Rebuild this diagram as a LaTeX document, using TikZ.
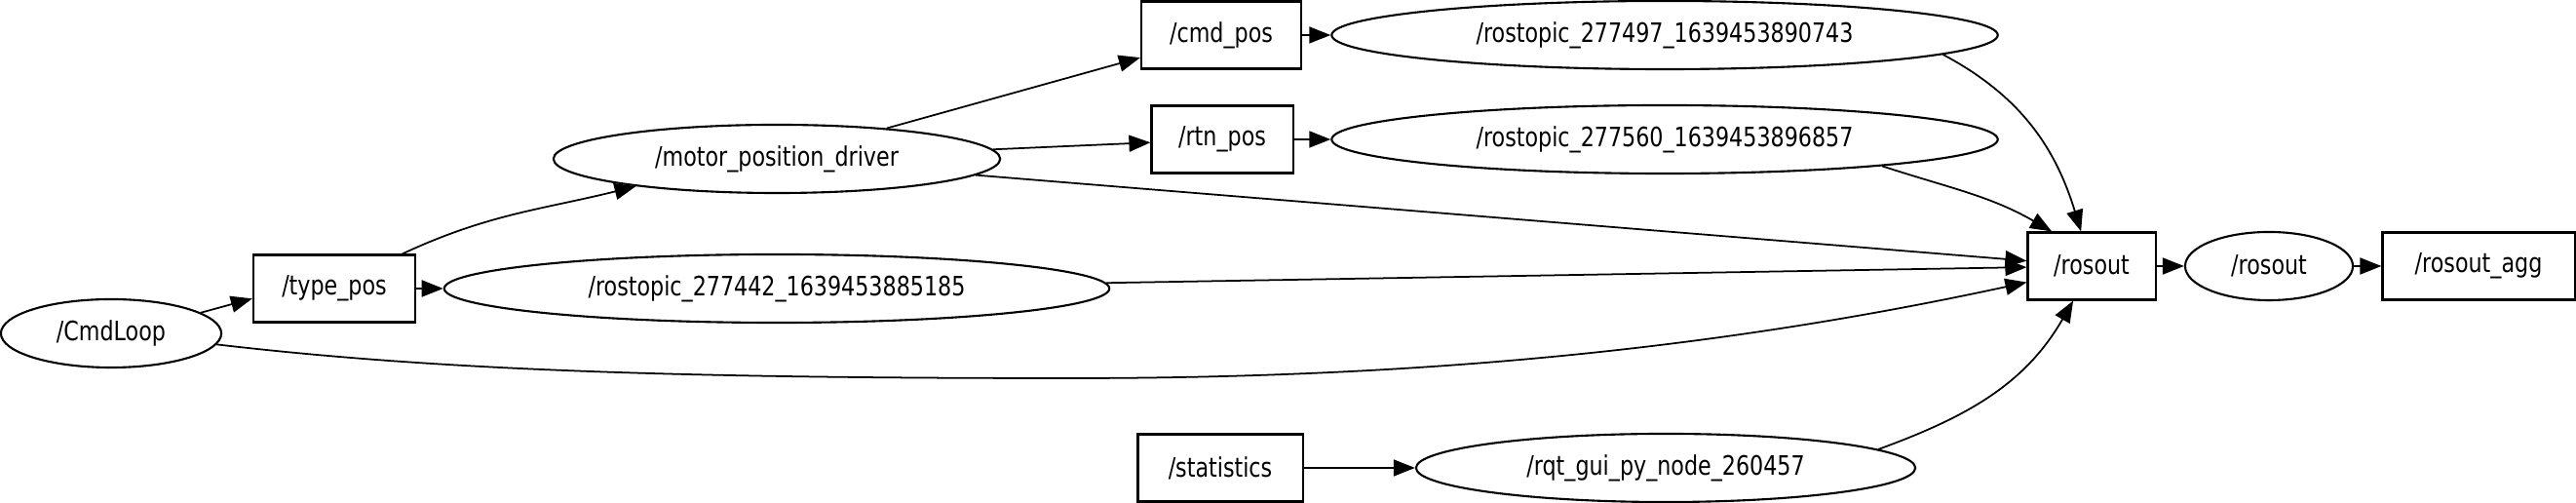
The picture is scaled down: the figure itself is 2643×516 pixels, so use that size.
\documentclass[tikz,border=0pt]{standalone}
\usepackage{fontspec}
\setmainfont{DejaVu Sans}[FakeStretch=0.81]
\usetikzlibrary{shapes.geometric,arrows.meta}

\begin{document}
\begin{tikzpicture}[x=0.01cm, y=0.01cm, >={Triangle[length=2.2mm,width=1.7mm]}]
        \tikzstyle{every node}=[inner sep=1pt, font=\fontsize{7.8}{9}\selectfont]
        \tikzstyle{topic}=[draw, line width=0.6pt, rectangle, minimum height=6.9mm]
        \tikzstyle{rosnode}=[draw, line width=0.6pt, ellipse, minimum height=7mm]
        \tikzstyle{link}=[->, line width=0.5pt]
        \useasboundingbox (0,0) rectangle (2643,516);
        \node [rosnode, minimum width=22.6mm] (CmdLoop) at (114,174) {/CmdLoop};
        \node [topic, minimum width=16.6mm] (type_pos) at (343,220) {/type\_pos};
        \node [rosnode, minimum width=68.2mm] (rt442) at (797,220) {/rostopic\_277442\_1639453885185};
        \node [rosnode, minimum width=45.8mm] (motor) at (797,353) {/motor\_position\_driver};
        \node [topic, minimum width=16.4mm] (cmd_pos) at (1253,480) {/cmd\_pos};
        \node [topic, minimum width=14.5mm] (rtn_pos) at (1254,373) {/rtn\_pos};
        \node [rosnode, minimum width=68.3mm] (rt497) at (1708,480) {/rostopic\_277497\_1639453890743};
        \node [rosnode, minimum width=68.3mm] (rt560) at (1708,373) {/rostopic\_277560\_1639453896857};
        \node [topic, minimum width=13.1mm] (rosout) at (2146,243) {/rosout};
        \node [rosnode, minimum width=17.2mm] (rosout_n) at (2328,243) {/rosout};
        \node [topic, minimum width=19.7mm] (rosout_agg) at (2543,243) {/rosout\_agg};
        \node [topic, minimum width=16.9mm] (statistics) at (1252,36) {/statistics};
        \node [rosnode, minimum width=51.2mm] (rqt) at (1709,36) {/rqt\_gui\_py\_node\_260457};
        \draw [link] (CmdLoop.13) -- (type_pos.187);
        \draw [link] (type_pos) -- (rt442);
        \draw [link] (type_pos.27) to[out=25, in=194] (motor.191);
        \draw [link] (motor) -- (cmd_pos);
        \draw [link] (motor) -- (rtn_pos);
        \draw [link] (cmd_pos) -- (rt497);
        \draw [link] (rtn_pos) -- (rt560);
        \draw [link] (motor) -- (rosout);
        \draw [link] (rt442) -- (rosout);
        \draw [link] (CmdLoop.-6) .. controls (450,136) and (700,128) .. (1100,128) .. controls (1500,128) and (1800,166) .. (rosout.194);
        \draw [link] (rt497.-4) to[out=-28, in=107] (rosout.107);
        \draw [link] (rt560.-7) to[out=-18, in=150] (rosout.139);
        \draw [link] (statistics) -- (rqt);
        \draw [link] (rqt.5) to[out=20, in=-120] (rosout.-118);
        \draw [link] (rosout) -- (rosout_n);
        \draw [link] (rosout_n) -- (rosout_agg);
    \end{tikzpicture}
\end{document}
